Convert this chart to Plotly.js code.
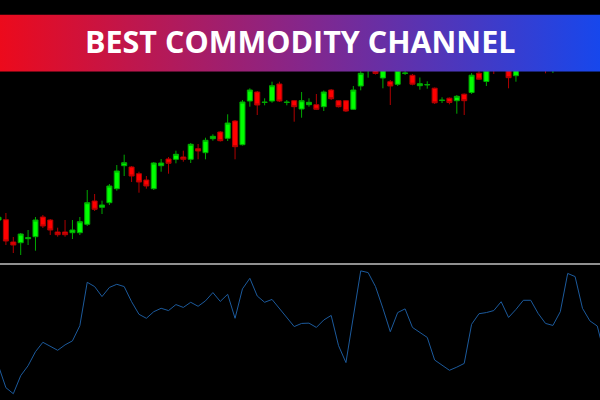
<!DOCTYPE html>
<html>
<head>
<meta charset="utf-8">
<script src="https://cdn.plot.ly/plotly-3.0.1.min.js"></script>
<style>
  html, body { margin: 0; padding: 0; background: #000; }
  #chart { width: 600px; height: 400px; }
</style>
</head>
<body>
<div id="chart"></div>
<script>
// ---- Data (bar index, OHLC prices, CCI values) ----
const barIndex = Array.from({length: 83}, (_, i) => i);

const openP = [
  1.10400, 1.10403, 1.10180, 1.10173, 1.10213, 1.10233, 1.10430, 1.10400, 1.10280, 1.10280,
  1.10273, 1.10273, 1.10357, 1.10590, 1.10527, 1.10573, 1.10713, 1.10943, 1.10930, 1.10863,
  1.10800, 1.10713, 1.10943, 1.11010, 1.11007, 1.11030, 1.11007, 1.11113, 1.11073, 1.11213,
  1.11280, 1.11217, 1.11390, 1.11153, 1.11590, 1.11680, 1.11575, 1.11590, 1.11760, 1.11575,
  1.11593, 1.11510, 1.11553, 1.11553, 1.11533, 1.11700, 1.11593, 1.11593, 1.11507, 1.11740,
  1.11940, 1.11980, 1.11820, 1.11783, 1.11757, 1.11866, 1.11847, 1.11743, 1.11751, 1.11718,
  1.11595, 1.11618, 1.11593, 1.11658, 1.11675, 1.11868, 1.11785, 1.11980, 1.11920, 1.11960,
  1.11843, 1.12000, 1.11940, 1.12050, 1.12020, 1.11940, 1.12030, 1.11940, 1.12140, 1.12050,
  1.11960, 1.12020, 1.11960
];
const highP = [
  1.10450, 1.10470, 1.10230, 1.10270, 1.10300, 1.10430, 1.10450, 1.10410, 1.10323, 1.10400,
  1.10400, 1.10430, 1.10700, 1.10660, 1.10593, 1.10760, 1.10950, 1.11053, 1.10940, 1.10883,
  1.10840, 1.10980, 1.11010, 1.11030, 1.11093, 1.11093, 1.11170, 1.11160, 1.11223, 1.11257,
  1.11290, 1.11457, 1.11400, 1.11600, 1.11717, 1.11690, 1.11617, 1.11783, 1.11783, 1.11600,
  1.11600, 1.11680, 1.11617, 1.11660, 1.11695, 1.11710, 1.11600, 1.11600, 1.11740, 1.11900,
  1.12000, 1.12020, 1.12000, 1.11800, 1.11940, 1.11900, 1.11860, 1.11825, 1.11787, 1.11725,
  1.11627, 1.11625, 1.11650, 1.11665, 1.11870, 1.11890, 1.11940, 1.12020, 1.12060, 1.12000,
  1.12020, 1.12050, 1.12100, 1.12100, 1.12080, 1.12060, 1.12080, 1.12160, 1.12180, 1.12100,
  1.12080, 1.12060, 1.12000
];
const lowP = [
  1.10380, 1.10150, 1.10070, 1.10050, 1.10150, 1.10093, 1.10320, 1.10250, 1.10233, 1.10233,
  1.10210, 1.10250, 1.10340, 1.10490, 1.10460, 1.10550, 1.10693, 1.10840, 1.10780, 1.10673,
  1.10713, 1.10700, 1.10883, 1.10863, 1.10967, 1.10983, 1.10970, 1.11007, 1.11007, 1.11193,
  1.11185, 1.11190, 1.11007, 1.11145, 1.11533, 1.11450, 1.11547, 1.11573, 1.11580, 1.11547,
  1.11383, 1.11423, 1.11533, 1.11500, 1.11490, 1.11600, 1.11525, 1.11480, 1.11500, 1.11697,
  1.11823, 1.11855, 1.11717, 1.11550, 1.11740, 1.11850, 1.11747, 1.11703, 1.11713, 1.11560,
  1.11570, 1.11557, 1.11463, 1.11450, 1.11660, 1.11800, 1.11740, 1.11860, 1.11900, 1.11717,
  1.11783, 1.11900, 1.11910, 1.11920, 1.11867, 1.11870, 1.11910, 1.11920, 1.12000, 1.11920,
  1.11920, 1.11900, 1.11890
];
const closeP = [
  1.10427, 1.10190, 1.10150, 1.10260, 1.10223, 1.10400, 1.10340, 1.10300, 1.10253, 1.10253,
  1.10300, 1.10383, 1.10573, 1.10507, 1.10550, 1.10740, 1.10890, 1.10973, 1.10840, 1.10780,
  1.10740, 1.10970, 1.10970, 1.10967, 1.11057, 1.11007, 1.11157, 1.11090, 1.11197, 1.11237,
  1.11193, 1.11370, 1.11133, 1.11580, 1.11700, 1.11550, 1.11578, 1.11743, 1.11590, 1.11578,
  1.11533, 1.11593, 1.11577, 1.11507, 1.11680, 1.11613, 1.11533, 1.11490, 1.11700, 1.11867,
  1.11943, 1.11865, 1.11960, 1.11740, 1.11900, 1.11869, 1.11758, 1.11763, 1.11754, 1.11572,
  1.11598, 1.11575, 1.11637, 1.11593, 1.11848, 1.11808, 1.11900, 1.11900, 1.12020, 1.11823,
  1.11980, 1.11920, 1.12040, 1.11970, 1.11940, 1.12020, 1.11950, 1.12120, 1.12050, 1.11960,
  1.12020, 1.11940, 1.11900
];
const cciValues = [
  -154, -230, -251, -188, -153, -104, -71, -85, -99, -80,
  -66, -13, 139, 124, 89, 121, 132, 124, 71, 27,
  13, 36, 48, 40, 61, 51, 69, 55, 74, 103,
  72, 97, 13, 116, 153, 91, 69, 79, 48, 16,
  -16, -5, -4, -19, 7, 23, -83, -142, 19, 179,
  173, 124, 48, -34, 33, 46, -19, -37, -54, -133,
  -151, -169, -158, -145, -8, 29, 33, 40, 71, 16,
  44, 76, 76, 30, -5, -12, 36, 170, 159, 48,
  4, -14, -116
];
const bannerTitle = 'BEST COMMODITY CHANNEL';

// ---- Banner gradient as an inline SVG image ----
const bannerSvg = "<svg xmlns='http://www.w3.org/2000/svg' width='600' height='58' preserveAspectRatio='none' viewBox='0 0 600 58'>" +
  "<defs><linearGradient id='g' x1='0' x2='1' y1='0' y2='0'>" +
  "<stop offset='0' stop-color='#ec0a1c'/>" +
  "<stop offset='0.5' stop-color='#86268a'/>" +
  "<stop offset='1' stop-color='#1747ec'/>" +
  "</linearGradient></defs><rect x='0' y='0' width='600' height='58' fill='url(#g)'/></svg>";

const traces = [
  {
    type: 'candlestick',
    x: barIndex, open: openP, high: highP, low: lowP, close: closeP,
    xaxis: 'x', yaxis: 'y',
    increasing: { line: { color: '#00a800', width: 1 }, fillcolor: '#00ff00' },
    decreasing: { line: { color: '#b00000', width: 1 }, fillcolor: '#ff0000' },
    whiskerwidth: 0,
    hoverinfo: 'skip'
  },
  {
    type: 'scatter', mode: 'lines',
    x: barIndex, y: cciValues,
    xaxis: 'x', yaxis: 'y2',
    line: { color: '#1c5a9c', width: 1 },
    hoverinfo: 'skip'
  }
];

const layout = {
  width: 600, height: 400,
  margin: { l: 0, r: 0, t: 0, b: 0, pad: 0 },
  paper_bgcolor: '#000000',
  plot_bgcolor: '#000000',
  showlegend: false,
  boxgap: 0.32,
  boxgroupgap: 0,
  xaxis: {
    range: [0.2, 81.37],
    rangeslider: { visible: false },
    showgrid: false, zeroline: false, showticklabels: false, ticks: '', showline: false,
    fixedrange: true
  },
  yaxis: {
    domain: [0.3425, 1],
    range: [1.0997, 1.1260],
    showgrid: false, zeroline: false, showticklabels: false, ticks: '', showline: false,
    fixedrange: true
  },
  yaxis2: {
    domain: [0, 0.3375],
    range: [-273, 199.5],
    anchor: 'x',
    showgrid: false, zeroline: false, showticklabels: false, ticks: '', showline: false,
    fixedrange: true
  },
  shapes: [
    { type: 'line', xref: 'paper', yref: 'paper', x0: 0, x1: 1, y0: 0.34, y1: 0.34,
      line: { color: '#909090', width: 2 } }
  ],
  images: [
    { source: 'data:image/svg+xml;charset=utf-8,' + encodeURIComponent(bannerSvg),
      xref: 'paper', yref: 'paper', x: 0, y: (400 - 14.5) / 400,
      sizex: 1, sizey: 57.2 / 400, sizing: 'stretch',
      xanchor: 'left', yanchor: 'top', layer: 'above' }
  ],
  annotations: [
    { text: bannerTitle, xref: 'paper', yref: 'paper', x: 0.5, y: (400 - 41) / 400,
      xanchor: 'center', yanchor: 'middle', showarrow: false,
      font: { family: 'Open Sans', size: 30.5, color: '#ffffff', weight: 700 } }
  ]
};

Plotly.newPlot('chart', traces, layout, { staticPlot: true, displayModeBar: false });
</script>
</body>
</html>
